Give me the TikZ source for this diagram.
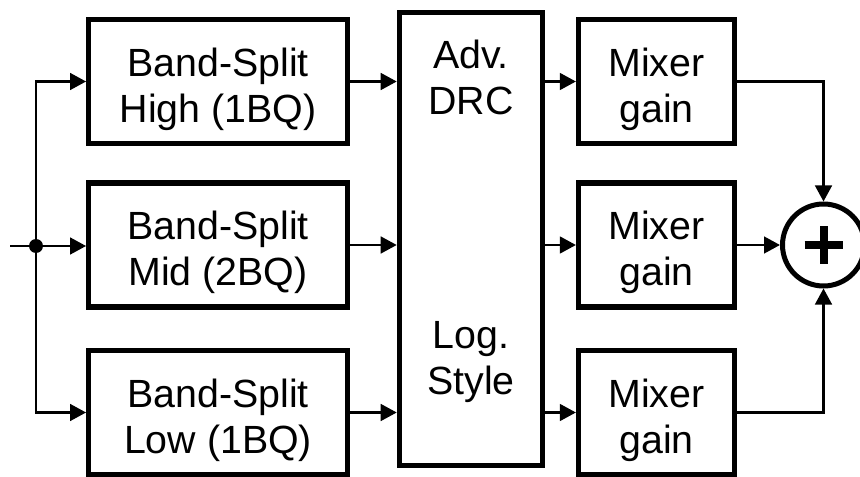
\documentclass[tikz,border=0pt]{standalone}
\usepackage{fontspec}
\setmainfont{Liberation Sans}
\usetikzlibrary{arrows.meta,positioning}

\begin{document}
\begin{tikzpicture}
  [ x=0.75pt, y=-0.75pt,
    my text/.style={font=\fontsize{29.5pt}{34.5pt}\selectfont, align=center,
      inner sep=0pt},
    my block/.style={my text, draw, line width=3.9pt, text height=67.5pt,
      text depth=6pt},
    band block/.style={my block, minimum width=194pt, minimum height=93pt},
    mixer block/.style={my block, minimum width=117pt, minimum height=93pt},
    my line/.style={line width=1.9pt},
    my arrow/.style={my line, -{Triangle[length=12pt,width=12.5pt]}},
    my dot/.style={circle, fill, inner sep=0pt, minimum size=10.5pt},
    my sum/.style={circle, draw, line width=3.75pt, inner sep=0pt,
      minimum size=61.5pt}, ]

  \path[use as bounding box, fill=white] (0,0) rectangle (860,477);

  \node[band block] (high) at (218,81.5) {Band-Split\\High (1BQ)};
  \node[band block] (mid) at (218,245) {Band-Split\\Mid (2BQ)};
  \node[band block] (low) at (218,412.5) {Band-Split\\Low (1BQ)};

  \node[my block, text height=, text depth=, minimum width=107.5pt,
    minimum height=340pt] (drc) at (471,239) {};
  \node[my text, anchor=base] (adv) at (471,115) {Adv.\\DRC};
  \node[my text, anchor=base] (logstyle) at (471,394) {Log.\\Style};

  \node[mixer block] (mixa) at (656.5,81.5) {Mixer\\gain};
  \node[mixer block] (mixb) at (656.5,245) {Mixer\\gain};
  \node[mixer block] (mixc) at (656.5,412.5) {Mixer\\gain};

  \node[my sum] (sum) at (823.5,245) {};
  \draw[line width=6pt] ([xshift=-14.25pt]sum.center)
    -- ([xshift=14.25pt]sum.center);
  \draw[line width=6pt] ([yshift=-14.25pt]sum.center)
    -- ([yshift=14.25pt]sum.center);

  \coordinate (in) at (10,246);
  \node[my dot] (split) at (36,246) {};
  \draw[my line] (in) -- (split);
  \draw[my arrow] (split) |- (high);
  \draw[my arrow] (split) -- (split -| mid.west);
  \draw[my arrow] (split) |- (low);

  \draw[my arrow] (high) -- (high -| drc.west);
  \draw[my arrow] (mid) -- (mid -| drc.west);
  \draw[my arrow] (low) -- (low -| drc.west);

  \draw[my arrow] (mixa -| drc.east) -- (mixa);
  \draw[my arrow] (mixb -| drc.east) -- (mixb);
  \draw[my arrow] (mixc -| drc.east) -- (mixc);

  \draw[my arrow] (mixa) -| (sum);
  \draw[my arrow] (mixb) -- (sum);
  \draw[my arrow] (mixc) -| (sum);

\end{tikzpicture}
\end{document}
